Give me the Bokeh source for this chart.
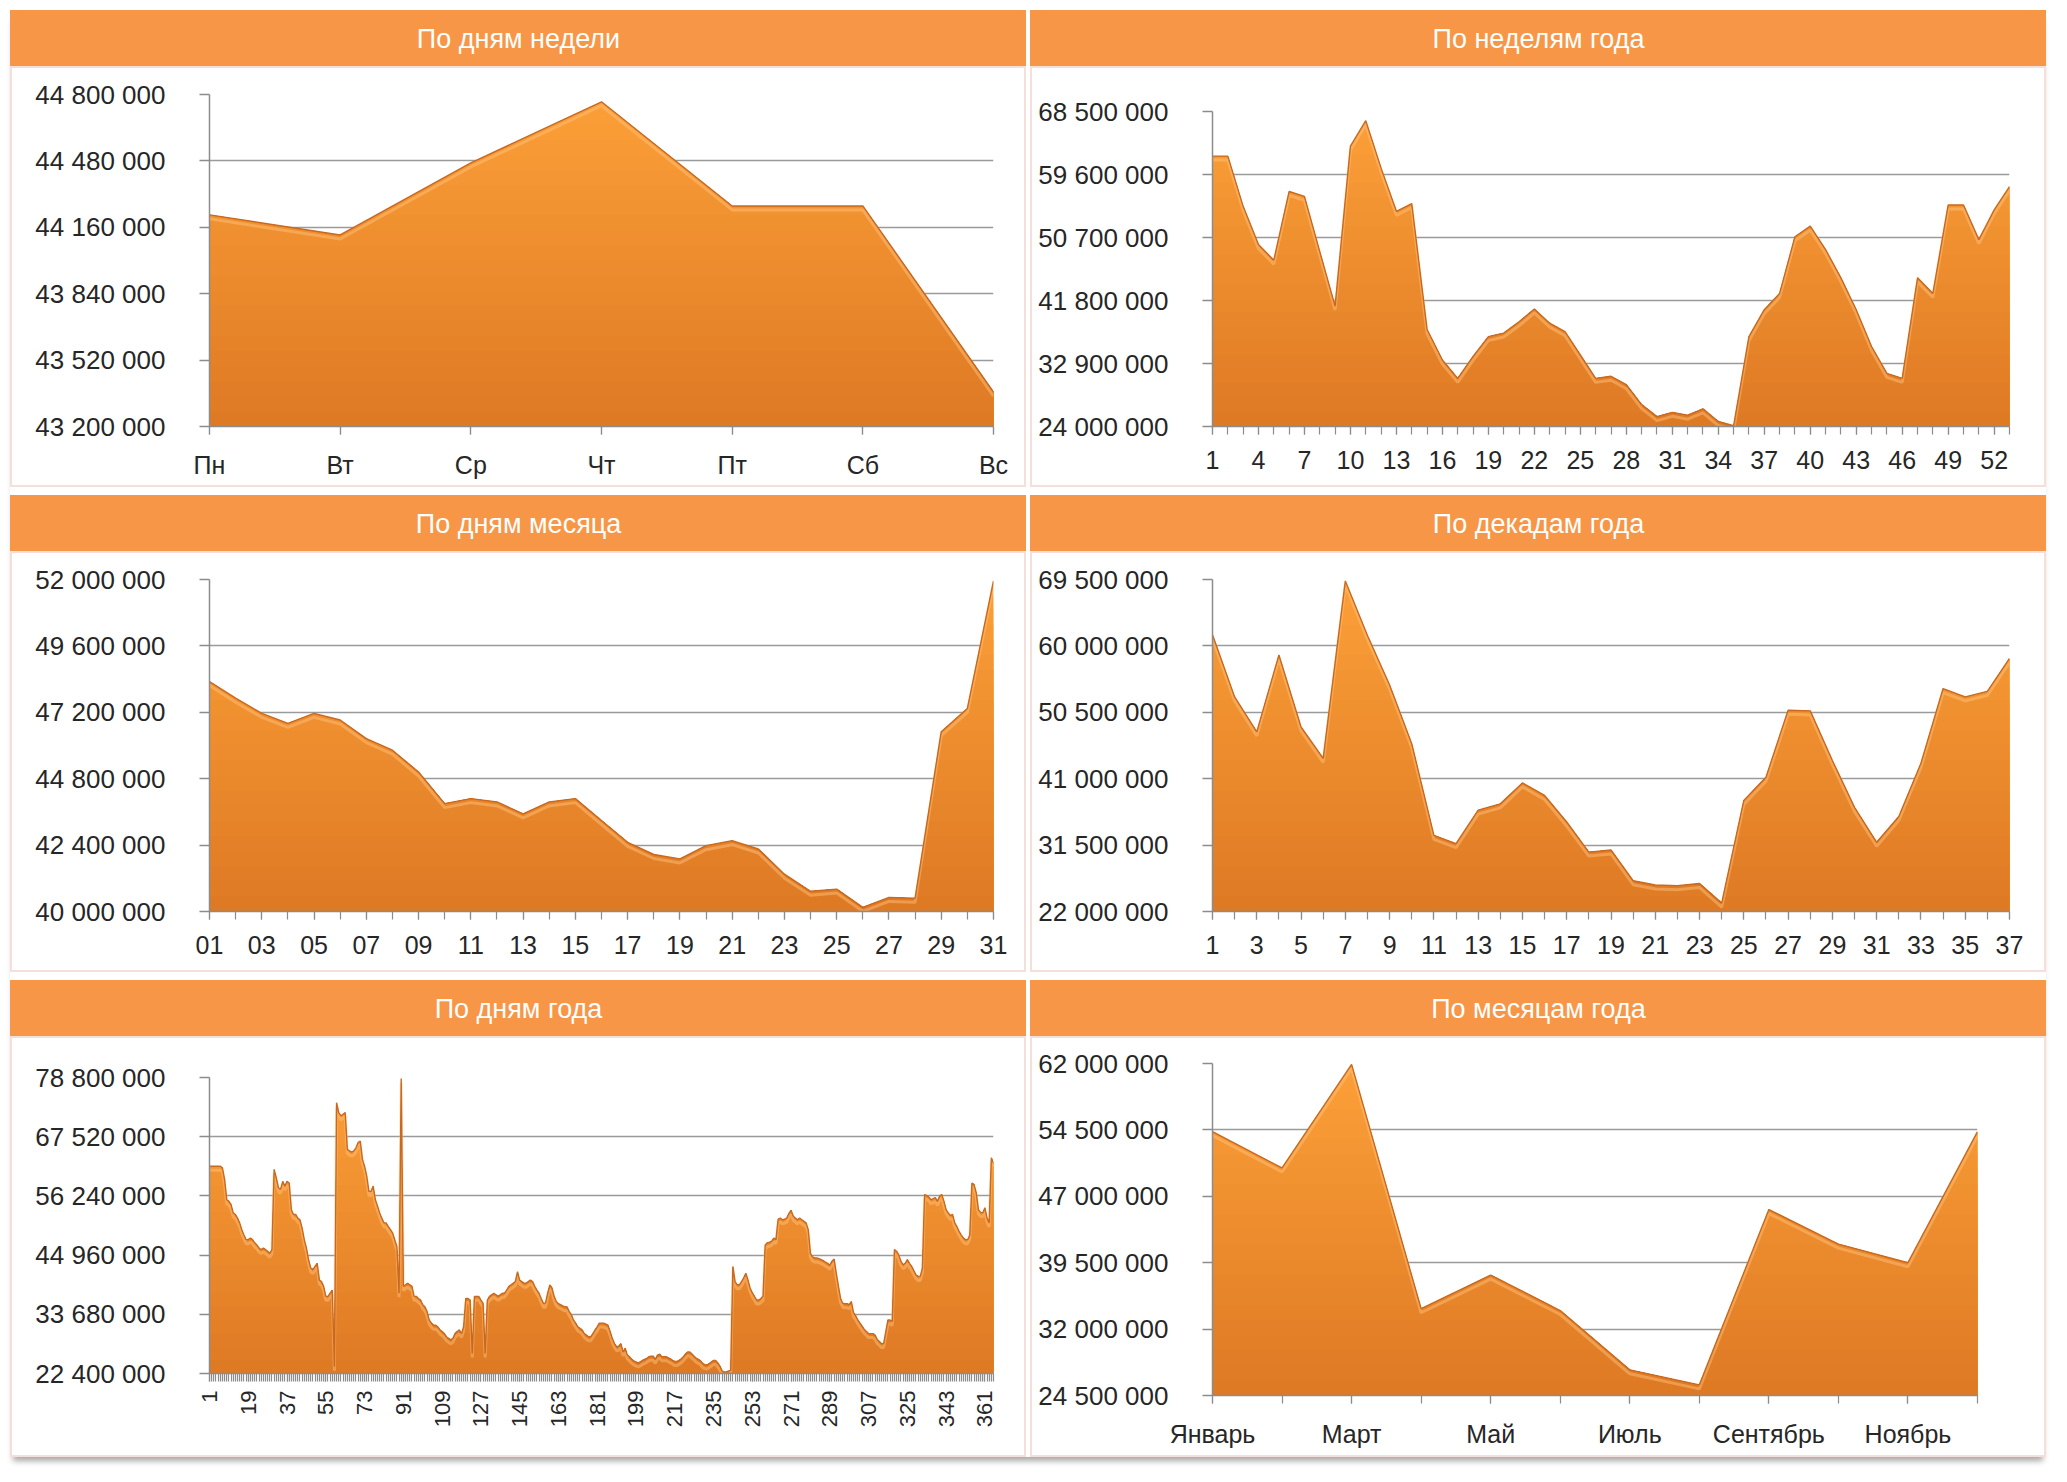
import numpy as np
from bokeh.plotting import figure
from bokeh.models import Range1d, FixedTicker
from bokeh.layouts import column, row
from bokeh.embed import file_html
from bokeh.resources import INLINE
from bokeh.core.properties import value

# ---------------- data ----------------
dow_labels = ["Пн", "Вт", "Ср", "Чт", "Пт", "Сб", "Вс"]
dow_values = [44220000, 44123000, 44470000, 44765000, 44263000, 44263000, 43366000]
dow_ticks = [43200000, 43520000, 43840000, 44160000, 44480000, 44800000]

week_values = [62.2, 62.2, 55.1, 49.7, 47.5, 57.2, 56.5, 48.7, 41.0, 63.6,
               67.2, 60.5, 54.4, 55.5, 37.7, 33.4, 30.8, 33.9, 36.7, 37.2,
               38.8, 40.6, 38.6, 37.4, 34.1, 30.8, 31.1, 29.9, 27.1, 25.4,
               26.0, 25.6, 26.5, 24.7, 24.1, 36.7, 40.5, 42.8, 50.8, 52.3,
               49.0, 45.0, 40.5, 35.3, 31.5, 30.8, 45.0, 42.8, 55.3, 55.3,
               50.4, 54.6, 57.9]
week_ticks = [24000000, 32900000, 41800000, 50700000, 59600000, 68500000]

dom_labels = ["%02d" % d for d in range(1, 32)]
dom_values = [48.31, 47.71, 47.16, 46.80, 47.16, 46.92, 46.25, 45.83, 45.04, 43.90,
              44.08, 43.96, 43.53, 43.96, 44.08, 43.29, 42.50, 42.06, 41.90, 42.38,
              42.56, 42.26, 41.35, 40.73, 40.81, 40.15, 40.51, 40.48, 46.50, 47.34,
              51.95]
dom_ticks = [40000000, 42400000, 44800000, 47200000, 49600000, 52000000]

dec_values = [61.6, 52.7, 47.7, 58.7, 48.4, 43.9, 69.3, 61.5, 54.4, 46.0,
              32.9, 31.7, 36.5, 37.4, 40.4, 38.6, 34.8, 30.5, 30.8, 26.4,
              25.8, 25.7, 26.0, 23.2, 37.9, 41.2, 50.8, 50.7, 43.6, 36.9,
              31.9, 35.6, 43.2, 53.9, 52.7, 53.5, 58.2]
dec_ticks = [22000000, 31500000, 41000000, 50500000, 60000000, 69500000]

doy_values = [
    61.9, 61.9, 61.9, 61.9, 61.9, 61.9, 61.6, 59.4, 55.5, 55.2,
    54.6, 53.0, 52.7, 52.0, 51.1, 49.8, 48.8, 47.9, 47.9, 48.2,
    47.9, 47.3, 46.9, 46.3, 46.0, 46.3, 46.0, 45.7, 45.3, 46.0,
    61.3, 59.7, 57.8, 57.5, 59.0, 58.1, 59.0, 58.7, 53.6, 52.7,
    52.7, 52.0, 51.7, 50.1, 47.9, 46.3, 44.1, 42.5, 42.2, 42.8,
    43.4, 40.2, 39.9, 39.0, 37.1, 37.1, 37.7, 38.3, 23.7, 74.0,
    72.1, 71.5, 71.8, 72.1, 65.1, 64.8, 64.6, 64.8, 65.4, 66.4,
    66.7, 63.2, 61.9, 60.0, 57.1, 57.1, 58.1, 55.5, 54.3, 53.0,
    52.0, 51.1, 51.1, 50.4, 49.8, 49.2, 47.9, 46.6, 37.7, 78.6,
    39.0, 39.3, 39.6, 39.3, 39.0, 37.1, 37.1, 36.7, 36.4, 35.5,
    35.1, 34.2, 32.6, 32.0, 31.6, 31.6, 31.3, 30.7, 30.4, 30.0,
    29.4, 29.1, 28.8, 29.1, 30.0, 30.4, 30.7, 30.0, 31.3, 36.7,
    36.7, 36.4, 26.2, 37.1, 37.1, 37.1, 36.4, 35.8, 26.2, 36.4,
    37.1, 37.4, 37.7, 37.4, 37.1, 37.4, 37.7, 37.7, 38.3, 39.0,
    39.3, 39.6, 39.9, 41.8, 40.2, 39.9, 39.6, 39.6, 39.9, 40.2,
    39.9, 39.0, 38.3, 37.7, 36.7, 35.8, 35.8, 37.7, 39.3, 38.7,
    37.1, 36.1, 35.7, 35.5, 35.3, 35.1, 35.1, 34.2, 33.6, 32.6,
    32.0, 31.3, 31.0, 30.7, 30.0, 29.7, 29.4, 29.4, 30.0, 30.7,
    31.3, 32.0, 32.0, 32.0, 31.8, 31.6, 30.4, 29.1, 28.1, 27.5,
    27.6, 28.1, 26.5, 27.2, 25.9, 25.6, 25.1, 24.8, 24.6, 24.4,
    24.6, 24.9, 25.1, 25.3, 25.6, 25.7, 25.7, 25.1, 25.9, 26.1,
    25.6, 25.6, 25.6, 25.4, 25.2, 24.9, 24.7, 24.7, 24.9, 25.2,
    25.6, 26.1, 26.5, 26.5, 26.1, 25.7, 25.3, 25.1, 24.8, 24.3,
    24.1, 24.0, 24.3, 24.6, 24.9, 24.9, 24.4, 23.8, 22.9, 22.7,
    22.7, 22.9, 23.0, 42.8, 39.9, 39.3, 39.3, 39.9, 40.6, 41.5,
    40.2, 38.7, 37.8, 37.1, 36.4, 36.4, 36.7, 37.1, 46.9, 47.3,
    47.4, 47.6, 48.2, 47.9, 51.8, 52.0, 51.7, 51.8, 52.0, 52.9,
    53.5, 52.4, 52.0, 51.7, 52.0, 51.7, 51.4, 51.1, 49.8, 45.3,
    44.6, 44.4, 44.4, 44.3, 44.1, 43.9, 43.6, 43.4, 43.0, 43.8,
    44.2, 41.5, 39.0, 36.7, 35.8, 35.7, 35.7, 35.5, 36.1, 34.0,
    33.4, 32.6, 32.0, 31.4, 30.8, 30.4, 30.0, 30.0, 30.0, 29.7,
    28.9, 28.5, 28.1, 28.1, 30.4, 32.6, 32.6, 32.3, 46.0, 45.7,
    45.0, 43.8, 43.1, 43.4, 44.1, 43.4, 42.8, 42.0, 41.2, 40.9,
    40.9, 42.5, 56.5, 56.3, 56.0, 55.5, 55.7, 55.9, 55.2, 56.2,
    56.5, 55.2, 53.6, 53.0, 52.5, 52.7, 51.1, 50.4, 49.5, 48.8,
    48.2, 47.9, 47.9, 48.8, 58.7, 58.4, 56.8, 53.6, 53.1, 53.0,
    54.0, 52.0, 51.1, 63.5, 62.5]
doy_ticks = [22400000, 33680000, 44960000, 56240000, 67520000, 78800000]

month_labels = ["Январь", "Февраль", "Март", "Апрель", "Май", "Июнь",
                "Июль", "Август", "Сентябрь", "Октябрь", "Ноябрь", "Декабрь"]
month_values = [54.3, 50.2, 61.9, 34.3, 38.1, 34.1, 27.4, 25.7, 45.5, 41.6, 39.5, 54.3]
month_ticks = [24500000, 32000000, 39500000, 47000000, 54500000, 62000000]

titles = ["По дням недели", "По неделям года", "По дням месяца",
          "По декадам года", "По дням года", "По месяцам года"]

# ---------------- style ----------------
FONT = "Liberation Sans"
HEADER = "#F79646"
TOP = (252, 160, 56)
BOT = (222, 121, 36)
EDGE = "#C8691F"
GRID = "#9A9A9A"
AXIS = "#8C8C8C"
TXT = "#262626"
COL_W = 1016
HEAD_H = 56
PANEL_H = 421


def fmt(v):
    return "{:,}".format(int(v)).replace(",", " ")


def mix(a, b, f):
    c = [int(round(a[i] + (b[i] - a[i]) * f)) for i in range(3)]
    return "#%02x%02x%02x" % tuple(c)


def clip_series(xs, ys, t):
    ox, oy = [], []
    for i in range(len(xs)):
        if i > 0:
            y0, y1 = ys[i - 1], ys[i]
            if (y0 - t) * (y1 - t) < 0:
                f = (t - y0) / (y1 - y0)
                ox.append(xs[i - 1] + f * (xs[i] - xs[i - 1]))
                oy.append(t)
        ox.append(xs[i])
        oy.append(min(ys[i], t))
    return ox, oy


def header(title, bl, br):
    # same side borders as the panel below it, so the frames line up exactly;
    # the orange band is the element background (no canvas seams)
    p = figure(width=COL_W, height=HEAD_H, x_range=Range1d(0, 1), y_range=Range1d(0, 1),
               output_backend="svg", toolbar_location=None,
               x_axis_location=None, y_axis_location=None,
               min_border_left=bl, min_border_right=br, min_border_top=0, min_border_bottom=0)
    p.background_fill_color = None
    p.border_fill_color = None
    p.outline_line_color = None
    p.styles = {"background-color": HEADER}
    p.xgrid.visible = False
    p.ygrid.visible = False
    cx = (COL_W / 2.0 - bl) / float(COL_W - bl - br)
    p.text(x=[cx], y=[0.5], text=[title], text_align="center", text_baseline="middle",
           text_color="white", text_font=value(FONT), text_font_size="27px")
    return p


def panel(xs, ys, yticks, lab_pos, lab_txt, minor, bl, br, bt, frame_h,
          rotate=False, lab_size="25px", standoff=16):
    y0, y1 = yticks[0], yticks[-1]
    bb = PANEL_H - bt - frame_h
    p = figure(width=COL_W, height=PANEL_H,
               x_range=Range1d(xs[0], xs[-1]), y_range=Range1d(y0, y1),
               output_backend="svg", toolbar_location=None,
               min_border_left=bl, min_border_right=br,
               min_border_top=bt, min_border_bottom=bb)
    p.background_fill_color = None
    p.border_fill_color = None
    p.outline_line_color = None
    p.styles = {"background-color": "white", "box-shadow": "inset 0 0 0 2px #F4DFDB"}

    # gradient area built from stacked clipped layers
    n = 22
    for k in range(n):
        t = y1 - k * (y1 - y0) / n
        cx, cy = clip_series(xs, ys, t)
        p.varea(x=cx, y1=y0, y2=cy, fill_color=mix(TOP, BOT, (k + 0.5) / n), fill_alpha=1.0)
    off = (y1 - y0) / frame_h * 4.0
    p.line(xs, [v - off for v in ys], line_color="#FFC680", line_alpha=0.45, line_width=3)
    p.line(xs, ys, line_color=EDGE, line_width=1.4)

    # y axis
    yt = FixedTicker(ticks=yticks)
    p.yaxis.ticker = yt
    p.ygrid.ticker = yt
    p.yaxis.major_label_overrides = {int(t): fmt(t) for t in yticks}
    p.yaxis.major_tick_out = 10
    p.yaxis.major_tick_in = 0
    p.yaxis.minor_tick_line_color = None
    p.yaxis.major_label_standoff = 34
    p.yaxis.axis_line_color = AXIS
    p.yaxis.axis_line_width = 1.5
    p.yaxis.major_tick_line_color = AXIS
    p.yaxis.major_tick_line_width = 1.5
    p.yaxis.major_label_text_font = FONT
    p.yaxis.major_label_text_font_size = "26px"
    p.yaxis.major_label_text_color = TXT
    p.ygrid.grid_line_color = GRID
    p.ygrid.grid_line_width = 1.6
    p.xgrid.visible = False

    # x axis
    p.xaxis.ticker = FixedTicker(ticks=lab_pos, minor_ticks=minor)
    p.xaxis.major_label_overrides = {int(a): b for a, b in zip(lab_pos, lab_txt)}
    p.xaxis.major_tick_out = 8
    p.xaxis.major_tick_in = 0
    p.xaxis.minor_tick_out = 8
    p.xaxis.minor_tick_in = 0
    p.xaxis.axis_line_color = AXIS
    p.xaxis.axis_line_width = 1.5
    p.xaxis.major_tick_line_color = AXIS
    p.xaxis.minor_tick_line_color = AXIS
    p.xaxis.major_tick_line_width = 1.2
    p.xaxis.minor_tick_line_width = 1.2
    p.xaxis.major_label_standoff = standoff
    p.xaxis.major_label_text_font = FONT
    p.xaxis.major_label_text_font_size = lab_size
    p.xaxis.major_label_text_color = TXT
    if rotate:
        p.xaxis.major_label_orientation = np.pi / 2
    return p


M = 1e6
LB, LR = 199, 33      # left column side borders
RB, RR = 182, 37      # right column side borders

# 1. days of week
x1 = list(range(len(dow_labels)))
p1 = panel(x1, dow_values, dow_ticks, x1, dow_labels, x1, LB, LR, 28, 332)

# 2. weeks of year
x2 = list(range(1, len(week_values) + 1))
w_pos = x2[::3]
p2 = panel(x2, [v * M for v in week_values], week_ticks, w_pos, [str(v) for v in w_pos], x2,
           RB, RR, 45, 315)

# 3. days of month
x3 = list(range(1, len(dom_values) + 1))
p3 = panel(x3, [v * M for v in dom_values], dom_ticks, x3[::2], dom_labels[::2], x3,
           LB, LR, 28, 332)

# 4. decades
x4 = list(range(1, len(dec_values) + 1))
p4 = panel(x4, [v * M for v in dec_values], dec_ticks, x4[::2], [str(v) for v in x4[::2]], x4,
           RB, RR, 28, 332)

# 5. days of year
x5 = list(range(1, len(doy_values) + 1))
p5 = panel(x5, [v * M for v in doy_values], doy_ticks, x5[::18], [str(v) for v in x5[::18]], x5,
           LB, LR, 41, 296, rotate=True, lab_size="22px", standoff=9)

# 6. months
x6 = list(range(1, len(month_values) + 1))
p6 = panel(x6, [v * M for v in month_values], month_ticks, x6[::2], month_labels[::2], x6,
           RB, 69, 27, 332)

panels = [p1, p2, p3, p4, p5, p6]
borders = [(LB, LR), (RB, RR), (LB, LR), (RB, RR), (LB, LR), (RB, 69)]
cells = [column(header(titles[i], *borders[i]), panels[i], spacing=0) for i in range(6)]
layout = column(row(cells[0], cells[1], spacing=4),
                row(cells[2], cells[3], spacing=4),
                row(cells[4], cells[5], spacing=4),
                spacing=8)
layout.margin = (10, 0, 0, 10)
layout.styles = {"box-shadow": "0 7px 6px -3px rgba(0,0,0,0.35)"}

open("out.html", "w").write(file_html(layout, INLINE))
